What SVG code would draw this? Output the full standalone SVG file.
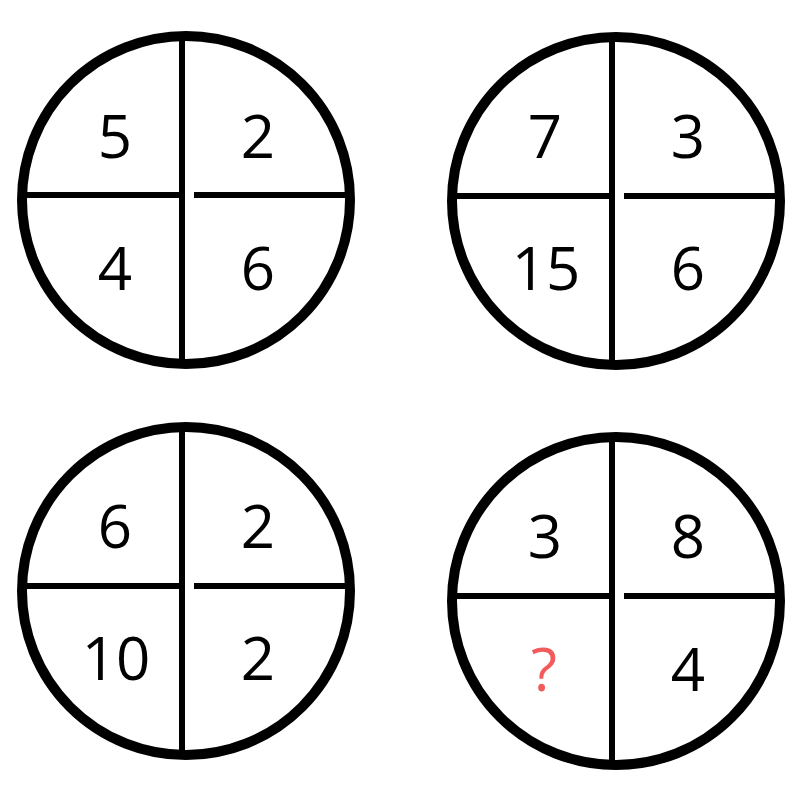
<svg xmlns="http://www.w3.org/2000/svg" width="800" height="800" viewBox="0 0 800 800">
<style>
.ring{fill:none;stroke:#000;stroke-width:10}
.div{stroke:#000;stroke-width:6;fill:none}
.num{font-family:"Open Sans","Noto Sans",sans-serif;font-size:60px;fill:#000;text-anchor:middle}
.q{fill:#f15b5b}
</style>
<rect width="800" height="800" fill="#fff"/>
<g id="circle1">
<circle class="ring" cx="186" cy="200" r="164"/>
<g class="div"><line x1="182" y1="38" x2="182" y2="362"/><line x1="25" y1="195" x2="182" y2="195"/><line x1="194" y1="195" x2="348" y2="195"/></g>
<text class="num" x="115" y="158">5</text>
<text class="num" x="258" y="158">2</text>
<text class="num" x="115" y="290">4</text>
<text class="num" x="258" y="290">6</text>
</g>
<g id="circle2">
<circle class="ring" cx="616" cy="201" r="164"/>
<g class="div"><line x1="612" y1="39" x2="612" y2="363"/><line x1="455" y1="196" x2="612" y2="196"/><line x1="624" y1="196" x2="778" y2="196"/></g>
<text class="num" x="545" y="158">7</text>
<text class="num" x="688" y="158">3</text>
<text class="num" x="546" y="290">15</text>
<text class="num" x="688" y="290">6</text>
</g>
<g id="circle3">
<circle class="ring" cx="186" cy="591" r="164"/>
<g class="div"><line x1="182" y1="429" x2="182" y2="753"/><line x1="25" y1="586" x2="182" y2="586"/><line x1="194" y1="586" x2="348" y2="586"/></g>
<text class="num" x="115" y="548">6</text>
<text class="num" x="258" y="548">2</text>
<text class="num" x="116" y="680">10</text>
<text class="num" x="258" y="680">2</text>
</g>
<g id="circle4">
<circle class="ring" cx="616" cy="601" r="164"/>
<g class="div"><line x1="612" y1="439" x2="612" y2="763"/><line x1="455" y1="596" x2="612" y2="596"/><line x1="624" y1="596" x2="778" y2="596"/></g>
<text class="num" x="545" y="558">3</text>
<text class="num" x="688" y="558">8</text>
<text class="num q" x="544" y="691">?</text>
<text class="num" x="688" y="691">4</text>
</g>
</svg>
